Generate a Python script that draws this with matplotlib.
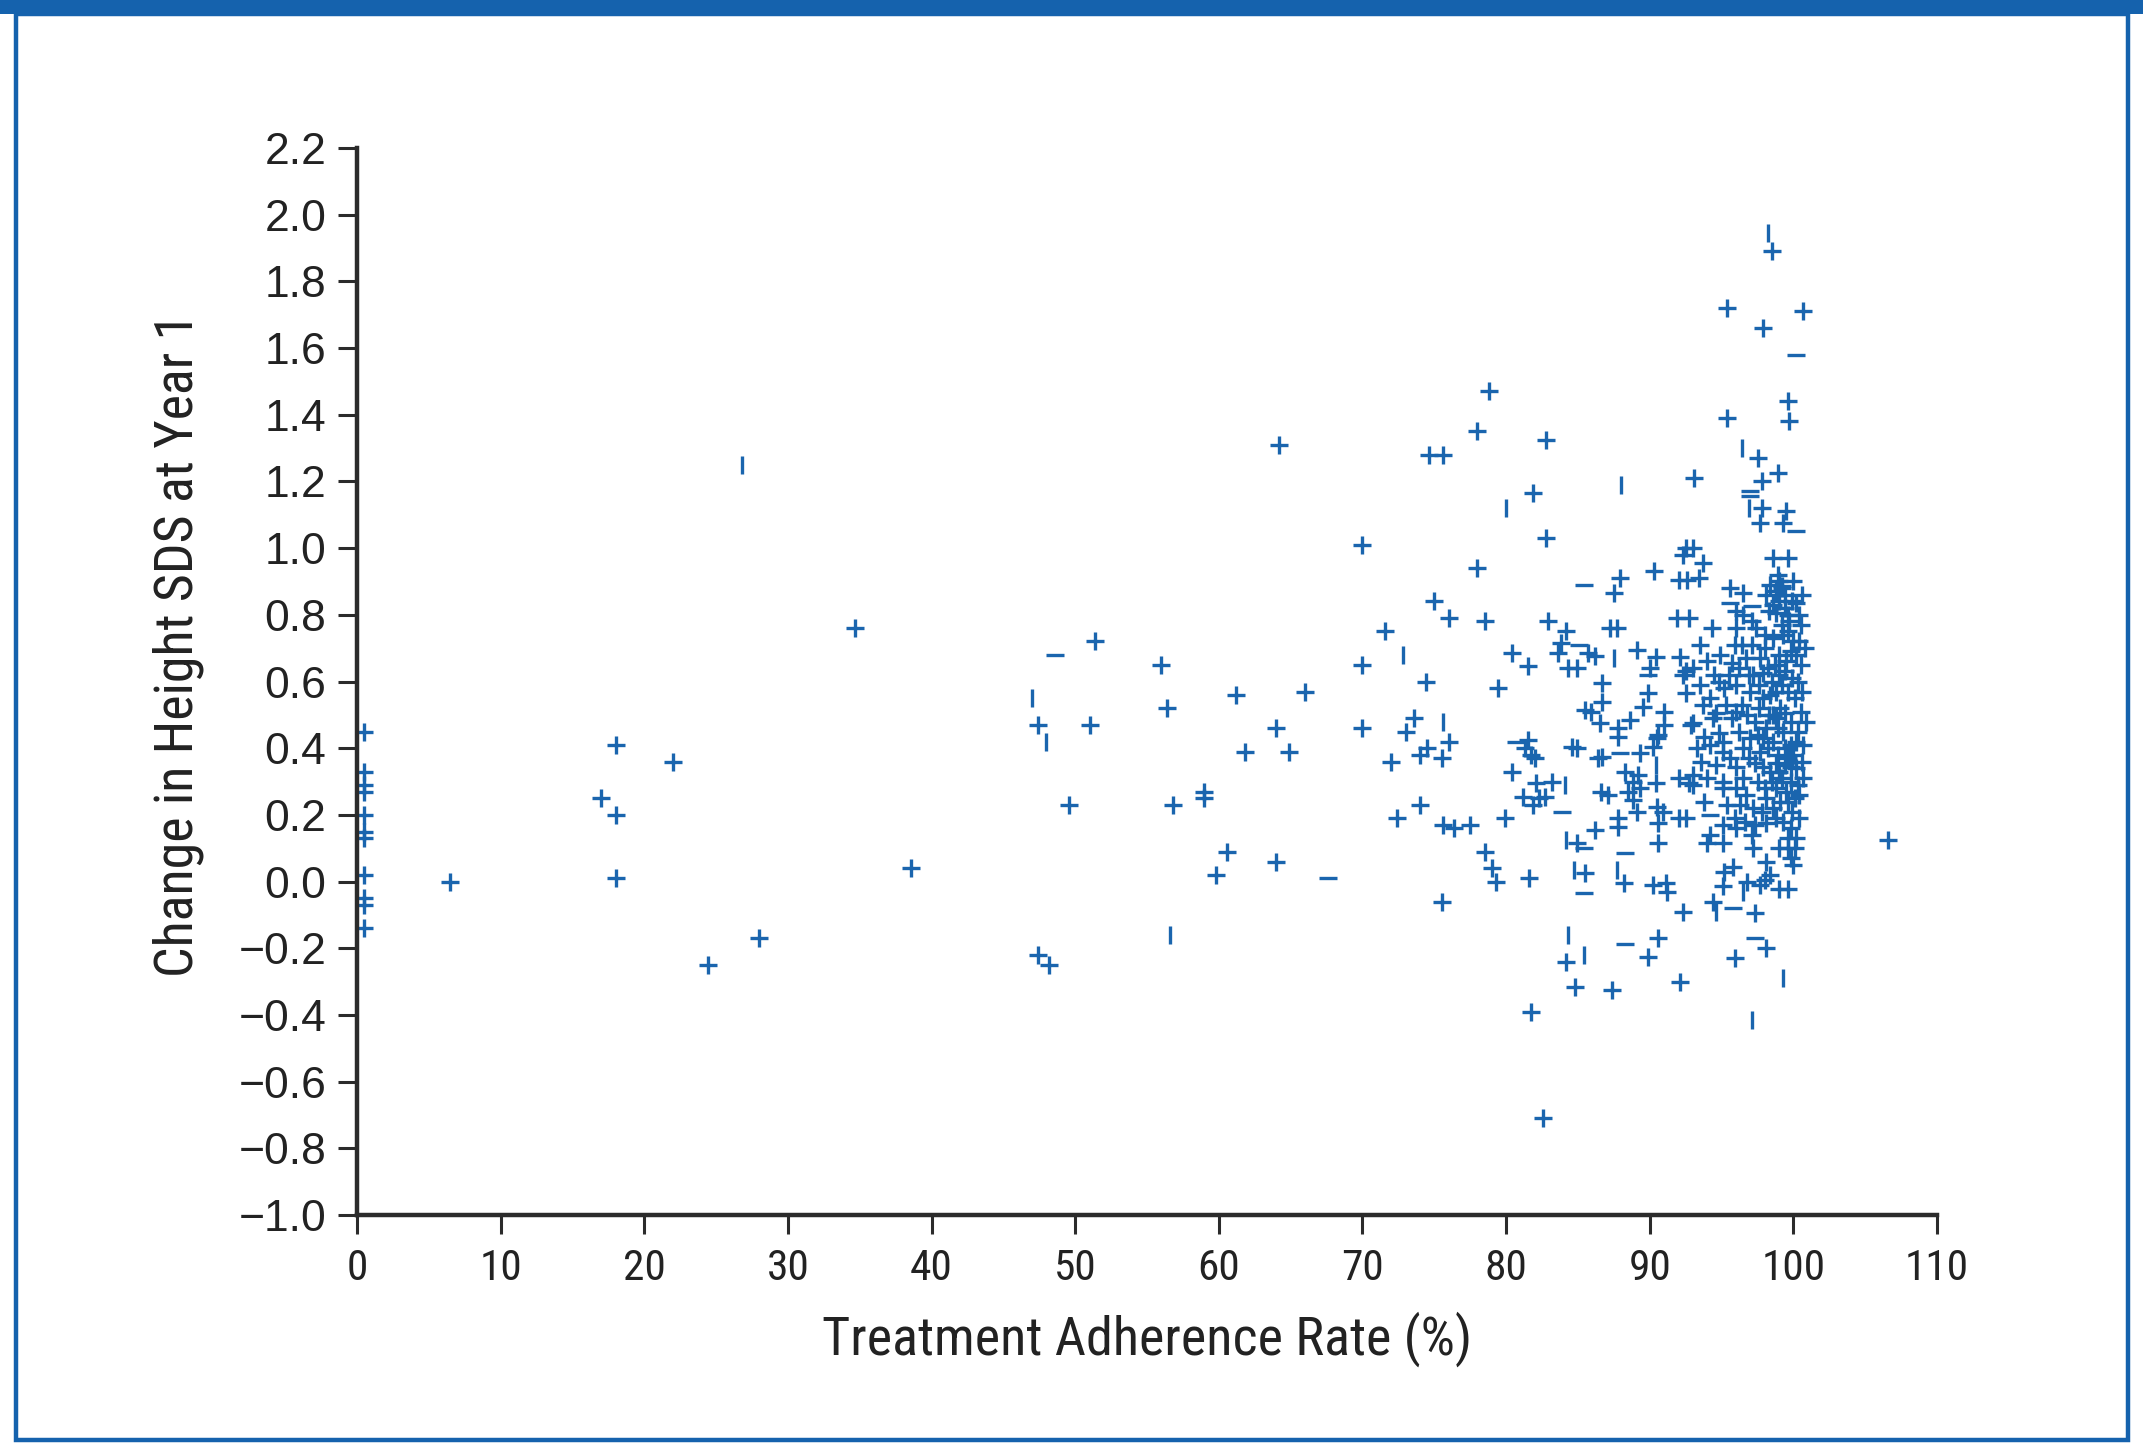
import numpy as np
import matplotlib
matplotlib.use("Agg")
import matplotlib.pyplot as plt
from matplotlib.patches import Rectangle
from matplotlib import font_manager as fm

# Colours
BLUE = '#1a65ae'
FRAME = '#1562ad'
AXIS = '#2b2b2b'

# Data: full "+" markers (adherence %, change in height SDS)
x_plus = [
    0.5, 0.5, 0.5, 0.5, 0.5, 0.5, 0.5, 0.5, 0.5, 0.5, 0.5,
    6.5, 17, 18, 18, 18, 22, 24.4, 28, 34.7, 38.6, 47.4, 47.4, 48.2, 51.4, 51, 49.6,
    56, 56.4, 56.8, 59, 59, 59.8, 60.6, 61.2, 61.8, 64.2, 64, 64.9, 64, 66,
    70, 70, 70, 71.6, 72, 72.4, 73, 73.6, 74.4, 74, 74.5, 74, 75, 74.6, 75.6, 75.5,
    76, 76, 75.5, 75.6, 76.4, 77.5, 78, 78, 78.8, 78.5, 78.5, 79, 79.3, 79.4, 79.9,
    80.4, 81.5, 81.6, 81.7, 82.6,
    98.5, 95.4, 100.7, 97.9, 99.6, 95.4, 99.7, 82.8, 97.5, 81.9, 93.1, 82.8, 98.9,
    97.8, 97.8, 97.7, 99.5, 99.3, 93.0, 98.6, 99.6, 93.7, 93.4, 95.6, 96.5,
    87.9, 87.5, 90.3, 92.0, 92.6, 92.5, 92.3, 82.9, 84.2, 87.2, 87.7, 91.9, 92.7,
    98.9, 99.0, 99.2, 98.8, 99.4, 99.0, 99.9, 100.2, 99.4, 98.8, 99.6, 100.4, 99.2,
    99.6, 98.4, 98.1, 98.3, 96.0, 96.5, 97.1, 97.4, 94.3, 96.0,
    83.8, 83.6, 85.7, 86.2, 84.3, 84.9, 89.1, 90.4, 90.0, 92.1, 92.5, 92.3, 86.7,
    89.9, 92.5, 86.7, 85.5, 85.9, 89.5, 91.0, 88.6, 86.5, 87.8, 87.8, 90.6, 91.0,
    90.5, 92.9, 90.2, 81.7, 82.0, 84.6, 84.9, 86.4, 86.7, 89.3, 88.3, 88.8, 89.2,
    88.5, 89.3, 86.6, 87.1, 82.1, 83.2, 82.7, 81.9, 90.4, 92.0, 92.7, 88.8, 89.1,
    87.8, 87.8, 90.5, 90.9, 90.6, 92.0, 92.5, 86.2, 81.5, 81.3, 80.4, 81.2, 82.3,
    93.5, 96.4, 97.1, 98.0, 99.8, 94.9, 95.7, 100.2, 100.5, 93.0, 94.5, 93.5, 97.2,
    97.9, 98.7, 99.4, 99.9, 99.2, 99.6, 100.1, 98.8, 98.4, 95.2, 96.0, 94.2, 93.7,
    94.6, 96.0, 96.4, 95.7, 97.3, 98.8, 99.4, 93.0, 93.8, 94.8, 95.1, 98.1, 97.9,
    98.6, 99.8, 100.2, 99.4, 97.0, 96.5, 94.2, 95.1, 95.6, 93.6, 93.0, 97.3, 97.9,
    98.8, 99.8, 100.2, 100.7, 98.4, 99.2, 99.8, 98.8, 99.5, 96.0, 96.5, 96.0, 94.0,
    95.1, 95.1, 93.0, 96.7, 98.1, 99.1, 100.1, 98.6, 95.4, 95.9, 96.6, 97.3, 98.1,
    99.3, 99.8, 95.1, 97.1, 94.2, 99.6,
    98.5, 99.0, 99.5, 98.2, 99.1, 98.6, 99.8, 99.3, 98.9, 99.6, 98.2, 100.0, 99.0,
    100.3, 98.5, 97.6, 97.0, 96.8, 97.6, 95.5, 96.2, 94.0, 94.8, 97.7, 96.9, 97.5,
    96.3, 97.8, 99.9, 100.4, 94.6, 93.8, 95.3, 100.3, 100.5, 100.3, 100.0, 99.3,
    98.6, 97.7, 96.7, 100.5, 100.4,
    99.2, 100.0, 98.6, 100.6, 99.7, 98.0, 100.8, 99.0, 97.9, 100.6, 98.9, 100.7,
    97.5, 99.4, 100.6, 98.0, 99.6, 100.4, 97.2, 98.8, 100.2, 99.0, 96.2, 96.9,
    95.9, 94.4, 93.3, 96.0, 98.3, 100.9,
    84.9, 90.6, 85.5, 88.2, 90.2, 91.1, 91.2, 92.3, 90.6, 84.2, 89.9, 84.8, 87.4, 92.1,
    94.0, 95.1, 97.2, 99.6, 100.1, 99.8, 100.0, 98.1, 95.8, 95.2, 98.4, 98.0, 96.8,
    97.7, 95.1, 99.0, 99.6, 94.4, 97.3, 98.1, 95.9, 106.6,
]
y_plus = [
    0.45, 0.33, 0.29, 0.27, 0.20, 0.15, 0.13, 0.02, -0.05, -0.07, -0.14,
    0.0, 0.25, 0.41, 0.20, 0.01, 0.36, -0.25, -0.17, 0.76, 0.04, 0.47, -0.22, -0.25, 0.72, 0.47, 0.23,
    0.65, 0.52, 0.23, 0.27, 0.25, 0.02, 0.09, 0.56, 0.39, 1.31, 0.46, 0.39, 0.06, 0.57,
    1.01, 0.65, 0.46, 0.75, 0.36, 0.19, 0.45, 0.49, 0.60, 0.38, 0.40, 0.23, 0.84, 1.28, 1.28, 0.37,
    0.79, 0.42, -0.06, 0.17, 0.16, 0.17, 1.35, 0.94, 1.47, 0.78, 0.09, 0.04, 0.0, 0.58, 0.19,
    0.33, 0.645, 0.01, -0.39, -0.71,
    1.89, 1.72, 1.71, 1.66, 1.44, 1.39, 1.38, 1.325, 1.27, 1.165, 1.21, 1.03, 1.225,
    1.20, 1.12, 1.075, 1.11, 1.075, 1.0, 0.97, 0.97, 0.955, 0.91, 0.88, 0.865,
    0.91, 0.866, 0.93, 0.905, 0.905, 1.0, 0.98, 0.78, 0.75, 0.76, 0.76, 0.79, 0.79,
    0.92, 0.90, 0.885, 0.87, 0.86, 0.84, 0.84, 0.835, 0.82, 0.805, 0.80, 0.80, 0.77,
    0.75, 0.89, 0.86, 0.81, 0.81, 0.80, 0.78, 0.76, 0.76, 0.76,
    0.716, 0.686, 0.686, 0.677, 0.64, 0.64, 0.695, 0.674, 0.64, 0.674, 0.63, 0.62, 0.595,
    0.566, 0.566, 0.54, 0.515, 0.51, 0.524, 0.51, 0.485, 0.476, 0.46, 0.434, 0.44, 0.47,
    0.43, 0.47, 0.404, 0.38, 0.37, 0.404, 0.40, 0.37, 0.375, 0.385, 0.33, 0.30, 0.32,
    0.27, 0.28, 0.27, 0.26, 0.296, 0.30, 0.254, 0.23, 0.296, 0.31, 0.295, 0.245, 0.21,
    0.19, 0.165, 0.224, 0.21, 0.176, 0.19, 0.19, 0.155, 0.425, 0.40, 0.686, 0.254, 0.25,
    0.71, 0.71, 0.71, 0.70, 0.69, 0.68, 0.655, 0.68, 0.65, 0.64, 0.62, 0.59, 0.62,
    0.625, 0.65, 0.63, 0.61, 0.59, 0.57, 0.55, 0.57, 0.56, 0.58, 0.59, 0.55, 0.53,
    0.505, 0.51, 0.53, 0.49, 0.48, 0.49, 0.505, 0.475, 0.435, 0.445, 0.42, 0.46, 0.43,
    0.42, 0.41, 0.42, 0.40, 0.43, 0.40, 0.41, 0.39, 0.37, 0.36, 0.32, 0.355, 0.345,
    0.355, 0.345, 0.34, 0.31, 0.33, 0.31, 0.30, 0.28, 0.27, 0.345, 0.31, 0.28, 0.31,
    0.30, 0.28, 0.29, 0.26, 0.25, 0.24, 0.25, 0.22, 0.23, 0.19, 0.18, 0.17, 0.175,
    0.18, 0.16, 0.17, 0.14, 0.14, 0.13,
    0.60, 0.62, 0.66, 0.64, 0.52, 0.50, 0.48, 0.45, 0.38, 0.37, 0.40, 0.38, 0.33,
    0.29, 0.30, 0.59, 0.57, 0.50, 0.52, 0.62, 0.64, 0.66, 0.60, 0.39, 0.37, 0.30,
    0.23, 0.21, 0.21, 0.19, 0.35, 0.24, 0.53, 0.60, 0.51, 0.45, 0.72, 0.74,
    0.73, 0.67, 0.67, 0.77, 0.72,
    0.88, 0.90, 0.83, 0.86, 0.78, 0.74, 0.70, 0.68, 0.55, 0.57, 0.46, 0.41,
    0.44, 0.35, 0.36, 0.28, 0.24, 0.26, 0.22, 0.19, 0.13, 0.10, 0.45, 0.62,
    0.71, 0.49, 0.40, 0.16, 0.50, 0.48,
    0.116, 0.116, 0.026, -0.004, -0.01, -0.004, -0.03, -0.09, -0.17, -0.24, -0.226, -0.316, -0.325, -0.30,
    0.115, 0.115, 0.10, 0.10, 0.10, 0.07, 0.05, 0.06, 0.045, 0.03, 0.02, 0.006, 0.0,
    -0.01, -0.012, -0.022, -0.022, -0.06, -0.095, -0.2, -0.23, 0.125,
]

# Marks that print only as a vertical stroke
x_vbar = [26.8, 47, 48, 56.6, 72.8, 75.6, 80.0, 98.2, 96.4, 88.0, 96.9,
          87.5, 90.4, 84.1, 84.2, 84.7, 87.7, 84.3, 85.4, 94.6, 99.3, 97.1, 96.5]
y_vbar = [1.25, 0.55, 0.42, -0.16, 0.68, 0.48, 1.12, 1.945, 1.30, 1.19, 1.12,
          0.67, 0.35, 0.29, 0.125, 0.035, 0.035, -0.16, -0.22, -0.09, -0.29, -0.415, -0.03]

# Marks that print only as a horizontal stroke
x_hbar = [48.6, 67.6, 100.2, 97.0, 97.0, 100.2, 85.4, 95.6, 97.1, 85.1, 89.9,
          80.7, 87.9, 83.9, 94.2, 85.4, 88.3, 85.4, 88.3, 95.8, 97.3]
y_hbar = [0.68, 0.01, 1.58, 1.17, 1.155, 1.05, 0.89, 0.835, 0.826, 0.71, 0.62,
          0.42, 0.385, 0.21, 0.2, 0.1, 0.086, -0.034, -0.187, -0.08, -0.17]

x_ticks = list(range(0, 111, 10))
y_ticks = [round(v, 1) for v in np.arange(-1.0, 2.21, 0.2)]


# look for a condensed face for the labels, the original uses a narrow font
def find_condensed():
    prefs = ['liberation sans narrow', 'dejavu sans condensed', 'roboto condensed',
             'noto sans', 'open sans', 'inter', 'lato']
    found = []
    for f in fm.fontManager.ttflist:
        n = f.name.lower()
        path = f.fname.lower()
        st = str(f.stretch).lower()
        if f.style != 'normal' or f.weight not in (400, 'normal', 'regular'):
            continue
        if 'extra' in path or 'ultra' in path or 'semi' in path:
            continue
        if 'narrow' in n or 'condensed' in n or st == 'condensed' \
                or 'condensed' in path or 'narrow' in path:
            rank = len(prefs)
            for i, p in enumerate(prefs):
                if n.startswith(p):
                    rank = i
                    break
            found.append((rank, f.fname))
    found.sort()
    return found[0][1] if found else None


cond_file = find_condensed()


def narrow(size):
    if cond_file:
        return fm.FontProperties(fname=cond_file, size=size)
    return fm.FontProperties(family='DejaVu Sans', size=size)


fig = plt.figure(figsize=(21.43, 14.48), dpi=100)
ax = fig.add_axes([0.1666, 0.1609, 0.7373, 0.7369])

ms = 13
mew = 2.4
ax.plot(x_plus, y_plus, linestyle='none', marker='+', ms=ms, mew=mew, color=BLUE, clip_on=False)
ax.plot(x_vbar, y_vbar, linestyle='none', marker='|', ms=ms, mew=mew, color=BLUE, clip_on=False)
ax.plot(x_hbar, y_hbar, linestyle='none', marker='_', ms=ms, mew=mew, color=BLUE, clip_on=False)

ax.set_xlim(0, 110)
ax.set_ylim(-1.0, 2.2)
for side in ['top', 'right']:
    ax.spines[side].set_visible(False)
for side in ['left', 'bottom']:
    ax.spines[side].set_linewidth(3.2)
    ax.spines[side].set_color(AXIS)

ax.set_xticks(x_ticks)
ax.set_xticklabels([str(t) for t in x_ticks], fontproperties=narrow(34), color='#222222')
ax.set_yticks(y_ticks)
ylab = []
for v in y_ticks:
    s = f"{abs(v):.1f}"
    ylab.append(('\u2212' + s) if v < 0 else s)
ax.set_yticklabels(ylab, family='Liberation Sans', fontsize=32, color='#222222')
ax.tick_params(direction='out', length=14, width=2.2, color=AXIS)
ax.tick_params(axis='y', pad=8)
ax.tick_params(axis='x', pad=10)

ax.set_xlabel('Treatment Adherence Rate (%)', fontproperties=narrow(38),
              color='#222222', labelpad=16)
ax.set_ylabel('Change in Height SDS at Year 1', fontproperties=narrow(38),
              color='#222222')
ax.yaxis.set_label_coords(-0.097, 0.534)

# scale the narrow texts so their lengths match the original
fig.canvas.draw()
r = fig.canvas.get_renderer()
xl = ax.xaxis.label
xl.set_fontsize(xl.get_fontsize() * 649 / xl.get_window_extent(r).width)
yl = ax.yaxis.label
yl.set_fontsize(yl.get_fontsize() * 663 / yl.get_window_extent(r).height)
last = ax.get_xticklabels()[-1]
tick_size = last.get_fontsize() * 64 / last.get_window_extent(r).width
for t in ax.get_xticklabels():
    t.set_fontsize(tick_size)

# Blue frame around the panel
W, H = 2143, 1448
fig.patches.append(Rectangle((0, (H - 14) / H), 1, 14 / H, transform=fig.transFigure,
                             facecolor=FRAME, edgecolor='none'))
fig.patches.append(Rectangle((16 / W, 8 / H), (2128 - 16) / W, (H - 8 - 14) / H,
                             transform=fig.transFigure, fill=False,
                             edgecolor=FRAME, linewidth=3.2))

fig.savefig('out.png', dpi=100)
